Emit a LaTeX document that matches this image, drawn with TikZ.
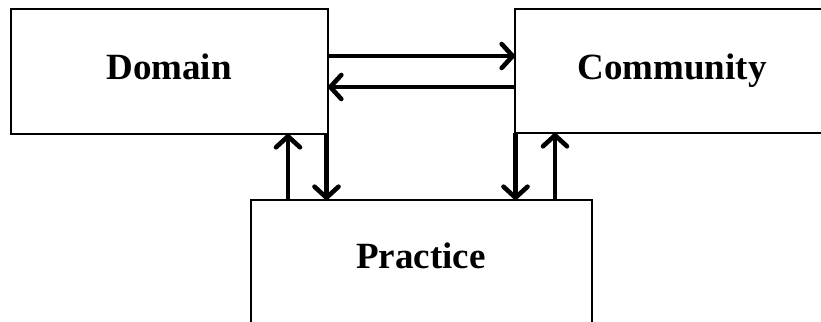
\documentclass[tikz,border=0pt]{standalone}
\usepackage{fontspec}
\setmainfont{Liberation Serif}
\usetikzlibrary{arrows.meta,calc}

\tikzset{
  box/.style={draw=black, line width=2.4pt, fill=white, outer sep=0pt, inner sep=0pt},
  lbl/.style={anchor=base, inner sep=0pt, font=\fontsize{37}{40}\selectfont\bfseries},
  arr/.style={line width=4.6pt, -{Straight Barb[length=11pt,width=24pt,round]}}
}

\begin{document}
\begin{tikzpicture}[x=1pt,y=1pt]
  \useasboundingbox (0,0) rectangle (821,321);
  \fill[white] (0,0) rectangle (821,321);
  \clip (0,0) rectangle (821,321);

  % the three boxes (Community and Practice run past the page edge)
  \node[box, minimum width=317pt, minimum height=125pt] (domain)    at (169.5,249.5) {};
  \node[box, minimum width=314pt, minimum height=124pt] (community) at (672,250)     {};
  \node[box, minimum width=341pt, minimum height=140pt] (practice)  at (421.5,51)    {};

  % box titles
  \node[lbl] (domainlbl)    at (169,241)   {Domain};
  \node[lbl] (communitylbl) at (672,241)   {Community};
  \node[lbl] (practicelbl)  at (421,52)    {Practice};

  % Domain <-> Community
  \draw[arr] ([yshift=15.5pt]domain.east) -- ([yshift=15.5pt]domain.east -| community.west);
  \draw[arr] ([yshift=-15.5pt]domain.east -| community.west) -- ([yshift=-15.5pt]domain.east);

  % Domain <-> Practice
  \draw[arr] ([xshift=-40pt]domain.south east |- practice.north) -- ([xshift=-40pt]domain.south east);
  \draw[arr] ([xshift=-1.5pt]domain.south east) -- ([xshift=-1.5pt]domain.south east |- practice.north);

  % Community <-> Practice
  \draw[arr] ([xshift=0.5pt]community.south west) -- ([xshift=0.5pt]community.south west |- practice.north);
  \draw[arr] ([xshift=40pt]community.south west |- practice.north) -- ([xshift=40pt]community.south west);
\end{tikzpicture}
\end{document}
